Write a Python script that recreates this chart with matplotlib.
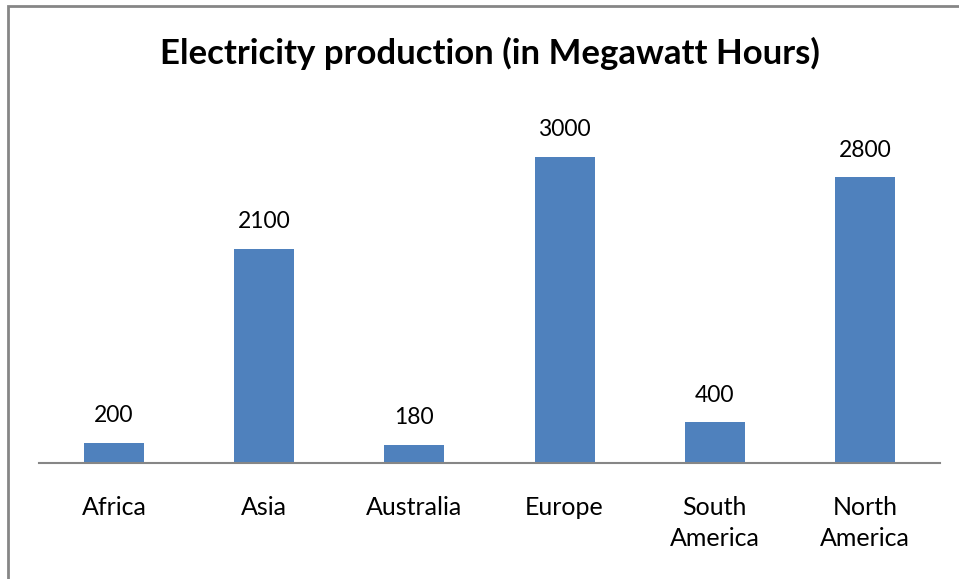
import matplotlib.pyplot as plt
from matplotlib.patches import Rectangle

# -------------------------------
# DATA
# -------------------------------
regions = ["Africa", "Asia", "Australia", "Europe", "South\nAmerica", "North\nAmerica"]
production = [200, 2100, 180, 3000, 400, 2800]

BAR_COLOR = "#4F81BD"
AXIS_COLOR = "#868686"

plt.rcParams["font.family"] = ["Lato", "DejaVu Sans"]

# -------------------------------
# FIGURE
# -------------------------------
fig = plt.figure(figsize=(9.59, 5.79), dpi=100)

# outer chart border (Excel style, right/bottom cropped off)
fig.patches.append(Rectangle((8 / 959, -0.1), 1.2, (579 - 6) / 579 + 0.1,
                             transform=fig.transFigure, fill=False,
                             edgecolor=AXIS_COLOR, linewidth=2))

ax = fig.add_axes([39 / 959, (579 - 463) / 579, 901 / 959, 357 / 579])

x = range(len(regions))
ax.bar(x, production, width=0.4, color=BAR_COLOR)
ax.set_xlim(-0.5, len(regions) - 0.5)
ax.set_ylim(0, 3500)

for i, v in enumerate(production):
    ax.annotate(str(v), (i, v), xytext=(0, 12), textcoords="offset points",
                ha="center", va="bottom", fontsize=16.5)

ax.set_xticks(list(x))
ax.set_xticklabels(regions, fontsize=18, linespacing=1.45, va="top")
ax.tick_params(axis="x", length=0, pad=23.5)
ax.set_yticks([])

for side in ["top", "right", "left"]:
    ax.spines[side].set_visible(False)
ax.spines["bottom"].set_color(AXIS_COLOR)
ax.spines["bottom"].set_linewidth(1.5)

fig.text(490 / 959, 1 - 53 / 579, "Electricity production (in Megawatt Hours)",
         ha="center", va="center", fontsize=25, fontweight="bold")

fig.savefig("out.png", dpi=100)
plt.close(fig)
